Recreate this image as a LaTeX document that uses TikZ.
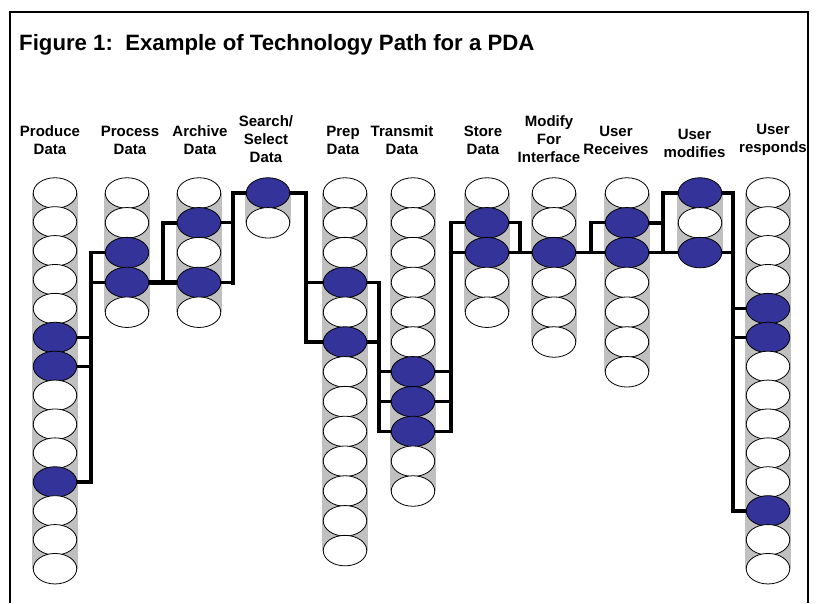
\documentclass[tikz,border=0pt]{standalone}
\usepackage{fontspec}
\setmainfont{Liberation Sans}
\usetikzlibrary{shapes.geometric}

\definecolor{slotblue}{RGB}{51,51,153}
\definecolor{tubegray}{RGB}{192,192,192}

\pgfdeclarelayer{tubes}
\pgfdeclarelayer{wires}
\pgfsetlayers{tubes,wires,main}

\tikzset{
  slotnode/.style={ellipse, draw=black, line width=0.8pt, fill=white,
                   minimum width=43.5pt, minimum height=30.5pt, inner sep=0pt},
  tubefill/.style={fill=tubegray, draw=none},
  wire/.style={draw=black, line width=3.2pt, line cap=rect, line join=miter},
  heavywire/.style={wire, line width=4.6pt},
  steplabel/.style={align=center, font=\bfseries\fontsize{15}{18}\selectfont,
                    inner sep=0pt},
  titletext/.style={anchor=west, font=\bfseries\fontsize{22.2}{26}\selectfont,
                    inner sep=0pt}
}

% \slotcolumn{name}{x}{number of slots}{spacing}{highlighted slots}
\makeatletter
\newcommand\slotcolumn[5]{%
  \begin{pgfonlayer}{tubes}
    \fill[tubefill] ({#2-23.3},193) rectangle ({#2+23.3},{193+(#3-1)*#4});
  \end{pgfonlayer}
  \foreach \k in {1,...,#3}{%
    \edef\slot@test{\noexpand\in@{,\k,}{,#5,}}\slot@test
    \ifin@\def\slot@fill{slotblue}\else\def\slot@fill{white}\fi
    \node[slotnode, fill=\slot@fill] (#1r\k) at (#2,{193+(\k-1)*#4}) {};
  }%
}
\makeatother

\begin{document}
\begin{tikzpicture}[x=1pt,y=-1pt]
\useasboundingbox (0,0) rectangle (817,603);

% outer frame (open at the bottom edge)
\draw[line width=1.8pt] (10,603) -- (10,12) -- (808,12) -- (808,603);

\node[titletext] (title) at (19,45) {Figure 1:\ \ Example of Technology Path for a PDA};

% step headings
\node[steplabel] (l1)  at (50,140)   {Produce\\Data};
\node[steplabel] (l2)  at (130,140)  {Process\\Data};
\node[steplabel] (l3)  at (200,140)  {Archive\\Data};
\node[steplabel] (l4)  at (266,139)  {Search/\\Select\\Data};
\node[steplabel] (l5)  at (343,140)  {Prep\\Data};
\node[steplabel] (l6)  at (402,140)  {Transmit\\Data};
\node[steplabel] (l7)  at (483,140)  {Store\\Data};
\node[steplabel] (l8)  at (549,139)  {Modify\\For\\Interface};
\node[steplabel] (l9)  at (616,140)  {User\\Receives};
\node[steplabel] (l10) at (694.5,143.5) {User\\modifies};
\node[steplabel] (l11) at (773,140)  {User\\responds};

% option columns
\slotcolumn{c1}{55}{14}{28.9}{6,7,11}
\slotcolumn{c2}{127}{5}{29.8}{3,4}
\slotcolumn{c3}{199}{5}{29.8}{2,4}
\slotcolumn{c4}{268}{2}{29.8}{1}
\slotcolumn{c5}{345}{13}{29.8}{4,6}
\slotcolumn{c6}{413}{11}{29.8}{7,8,9}
\slotcolumn{c7}{487}{5}{29.8}{2,3}
\slotcolumn{c8}{554}{6}{29.8}{3}
\slotcolumn{c9}{627}{7}{29.8}{2,3}
\slotcolumn{c10}{700}{3}{29.8}{1,3}
\slotcolumn{c11}{768}{14}{28.9}{5,6,12}

% x positions of the vertical bus bars
\coordinate (b12)   at (91,0);
\coordinate (b23)   at (163,0);
\coordinate (b34)   at (233,0);
\coordinate (b45)   at (306,0);
\coordinate (b56)   at (379,0);
\coordinate (b67)   at (451,0);
\coordinate (b78)   at (520,0);
\coordinate (b89)   at (591,0);
\coordinate (b910)  at (663,0);
\coordinate (b1011) at (733,0);

\begin{pgfonlayer}{wires}
  % Produce -> Process
  \draw[wire] (c1r6.east) -- (c1r6.east -| b12);
  \draw[wire] (c1r7.east) -- (c1r7.east -| b12);
  \draw[wire] (c1r11.east) -| (b12 |- c2r3.west) -- (c2r3.west);
  \draw[wire] (b12 |- c2r4.west) -- (c2r4.west);
  % Process -> Archive
  \draw[heavywire] (c2r4.east) -- (c3r4.west);
  \draw[wire, line width=4pt] (b23 |- c2r4.east) -- (b23 |- c3r2.west) -- (c3r2.west);
  % Archive -> Search/Select
  \draw[wire] (c3r2.east) -- (c3r2.east -| b34);
  \draw[wire] (c3r4.east) -- (c3r4.east -| b34);
  \draw[heavywire] (b34 |- c3r4.east) |- (c4r1.west);
  % Search/Select -> Prep
  \draw[heavywire] (c4r1.east) -- (c4r1.east -| b45);
  \draw[wire] (b45 |- c4r1.east) |- (c5r6.west);
  \draw[wire] (b45 |- c5r4.west) -- (c5r4.west);
  % Prep -> Transmit
  \draw[wire] (c5r4.east) -| (b56 |- c6r9.west) -- (c6r9.west);
  \draw[wire] (c5r6.east) -- (c5r6.east -| b56);
  \draw[wire] (b56 |- c6r7.west) -- (c6r7.west);
  \draw[wire] (b56 |- c6r8.west) -- (c6r8.west);
  % Transmit -> Store
  \draw[wire] (c6r9.east) -| (b67 |- c7r2.west) -- (c7r2.west);
  \draw[wire] (c6r7.east) -- (c6r7.east -| b67);
  \draw[wire] (c6r8.east) -- (c6r8.east -| b67);
  \draw[wire] (b67 |- c7r3.west) -- (c7r3.west);
  % Store -> Modify for Interface
  \draw[wire] (c7r2.east) -| (b78 |- c8r3.west) -- (c8r3.west);
  \draw[wire] (c7r3.east) -- (c7r3.east -| b78);
  % Modify for Interface -> User Receives
  \draw[wire] (c8r3.east) -- (c9r3.west);
  \draw[wire] (b89 |- c8r3.east) |- (c9r2.west);
  % User Receives -> User modifies
  \draw[heavywire] (c9r2.east) -| (b910 |- c10r1.west) -- (c10r1.west);
  \draw[wire] (c9r3.east) -- (c10r3.west);
  \draw[wire] (b910 |- c9r2.east) -- (b910 |- c9r3.east);
  % User modifies -> User responds
  \draw[wire] (c10r1.east) -| (b1011 |- c11r12.west) -- (c11r12.west);
  \draw[wire] (c10r3.east) -- (c10r3.east -| b1011);
  \draw[wire] (b1011 |- c11r5.west) -- (c11r5.west);
  \draw[wire] (b1011 |- c11r6.west) -- (c11r6.west);
\end{pgfonlayer}
\end{tikzpicture}
\end{document}
